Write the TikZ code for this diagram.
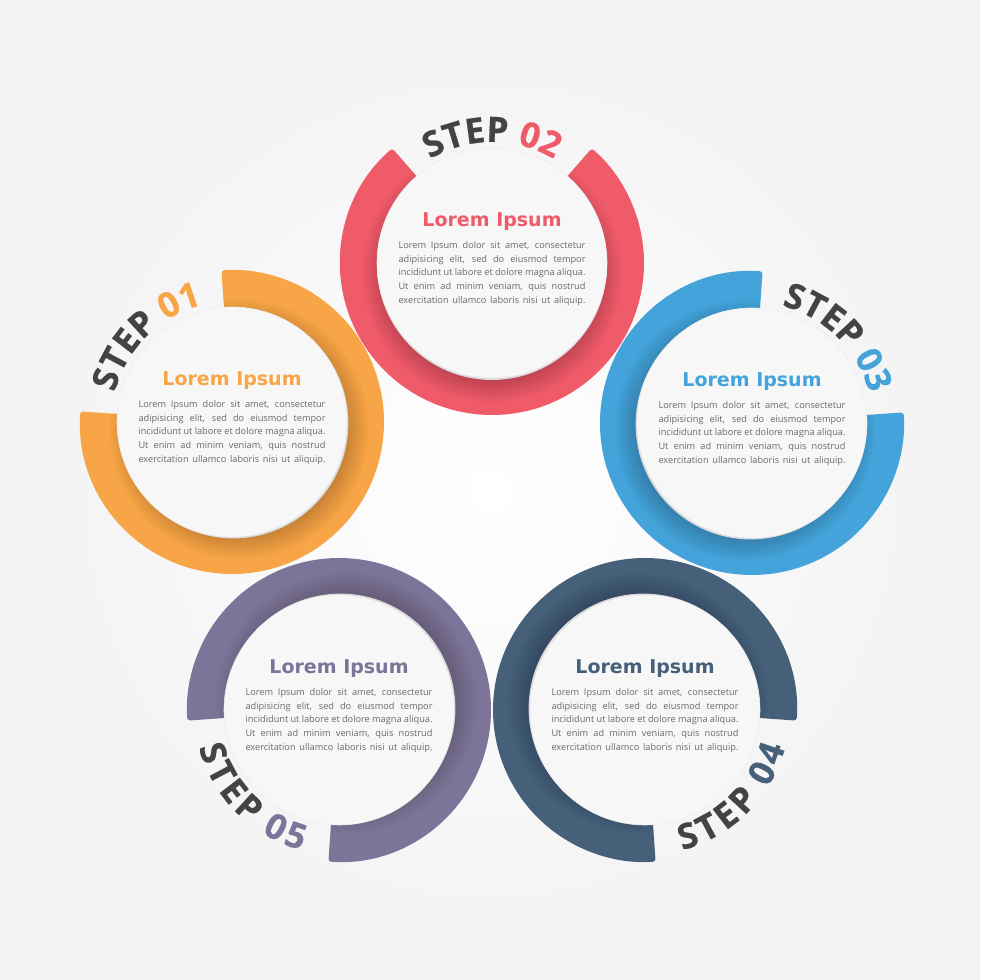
\documentclass[tikz,border=0pt]{standalone}
\usepackage{fontspec}
\usetikzlibrary{decorations.text}
\newfontfamily\osans{Open Sans}
\newfontfamily\stepfam{Open Sans}[BoldFeatures={FakeBold=0.6}]
\newfontfamily\dvsans{DejaVu Sans}
\definecolor{corange}{HTML}{F7A546}
\definecolor{cred}{HTML}{F05B6A}
\definecolor{cblue}{HTML}{43A3DA}
\definecolor{cnavy}{HTML}{46607A}
\definecolor{cpurple}{HTML}{7C7499}
\definecolor{stepgray}{HTML}{434343}
\definecolor{bodygray}{HTML}{6A6A6A}
\definecolor{discwhite}{HTML}{F7F7F7}
\newcommand\stepfont{\stepfam\bfseries\fontsize{35}{35}\selectfont}
\newcommand\bodytext{%
\makebox[187pt][s]{Lorem Ipsum dolor sit amet, consectetur}\\
\makebox[187pt][s]{adipisicing elit, sed do eiusmod tempor}\\
\makebox[187pt][s]{incididunt ut labore et dolore magna aliqua.}\\
\makebox[187pt][s]{Ut enim ad minim veniam, quis nostrud}\\
\makebox[187pt][s]{exercitation ullamco laboris nisi ut aliquip.}}
% #1 cx, #2 cy, #3 gap direction, #4 colour, #5 number, #6 #7 text arc angles, #8 raise of the text
\newcommand\stepring[8]{%
  \coordinate (c#5) at (#1,#2);
  \fill[#4, rounded corners=3pt]
    ([shift={(#3+41:152)}]c#5) arc[start angle=#3+41, end angle=#3+319, radius=152]
    -- ([shift={(#3+319:110)}]c#5) arc[start angle=#3+319, end angle=#3+41, radius=110] -- cycle;
  \begin{scope}
    \clip ([shift={(#3+41:152)}]c#5) arc[start angle=#3+41, end angle=#3+319, radius=152]
      -- ([shift={(#3+319:110)}]c#5) arc[start angle=#3+319, end angle=#3+41, radius=110] -- cycle;
    \foreach \i in {0,...,11}
      \fill[black, opacity=0.016] ([shift={(#3+180:10)}]c#5) circle[radius=108+\i*2];
  \end{scope}
  \fill[black!15] ([shift={(#3+180:2)}]c#5) circle[radius=115];
  \fill[discwhite, draw=black!7, line width=0.6pt] (c#5) circle[radius=115];
  \node[titlestyle, text=#4] (t#5) at ([yshift=36]c#5) {Lorem Ipsum};
  \node[bodystyle] (b#5) at ([yshift=-10.4]c#5) {\bodytext};
  \path[decorate, decoration={text along path, text align=center, raise=#8,
      text={|\stepfont\color{stepgray}|STEP |\stepfont\color{#4}|#5}}]
    ([shift={(#6:121)}]c#5) arc[start angle=#6, end angle=#7, radius=121];
}
\begin{document}
\begin{tikzpicture}[x=1pt, y=1pt,
  titlestyle/.style={font=\dvsans\bfseries\fontsize{19}{21}\selectfont, inner sep=0pt, anchor=base},
  bodystyle/.style={font=\osans\fontsize{9.2}{13.75}\selectfont, text=bodygray, align=center, inner sep=0pt}]
\useasboundingbox (0,0) rectangle (980,980);
\shade[inner color=white, outer color=black!5] (0,0) rectangle (980,980);
\stepring{232}{558}{135}{corange}{01}{195}{75}{0pt}
\stepring{492}{717}{90}{cred}{02}{150}{30}{0pt}
\stepring{752}{557}{45}{cblue}{03}{105}{-15}{0pt}
\stepring{645}{270}{315}{cnavy}{04}{255}{375}{-24pt}
\stepring{339}{270}{225}{cpurple}{05}{165}{285}{-24pt}
\end{tikzpicture}
\end{document}
